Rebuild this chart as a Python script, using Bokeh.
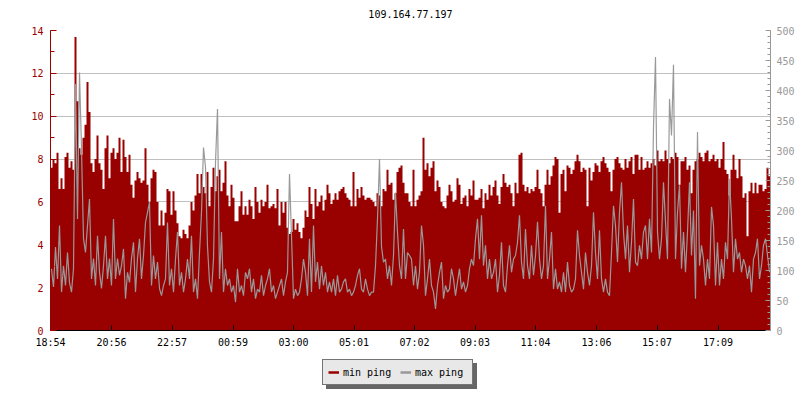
import numpy as np
from bokeh.plotting import figure
from bokeh.layouts import column
from bokeh.models import (Range1d, LinearAxis, SingleIntervalTicker, FixedTicker,
                          Legend, LegendItem, Label)
from bokeh.embed import file_html
from bokeh.resources import INLINE

TITLE = "109.164.77.197"
TIME_LABELS = ["18:54", "20:56", "22:57", "00:59", "03:00", "05:01",
               "07:02", "09:03", "11:04", "13:06", "15:07", "17:09"]
SAMPLE_MINUTES = 4
SERIES_NAMES = ["min ping", "max ping"]

# min ping (left axis), one value per 4-minute sample
MIN_PING = [
    7.6, 8.0, 7.8, 8.3, 6.6, 7.1, 6.6, 8.1, 8.3, 7.6,
    7.9, 7.5, 13.7, 10.7, 8.5, 8.2, 9.0, 9.6, 11.6, 10.2,
    7.8, 7.4, 8.0, 9.1, 7.8, 7.5, 6.6, 8.5, 9.1, 7.1,
    8.3, 8.5, 8.0, 8.3, 9.0, 7.4, 8.9, 8.1, 7.4, 8.2,
    6.8, 6.2, 7.0, 7.4, 7.1, 6.9, 7.0, 8.5, 6.8, 6.0,
    7.1, 7.5, 7.4, 6.0, 4.9, 5.6, 4.9, 5.5, 6.6, 6.5,
    5.4, 6.5, 5.6, 5.0, 4.4, 4.3, 4.7, 4.5, 4.3, 4.9,
    6.0, 5.6, 6.3, 7.3, 6.4, 7.3, 6.7, 6.4, 7.4, 5.8,
    6.7, 7.6, 6.5, 7.2, 7.5, 6.5, 6.9, 7.9, 6.3, 5.8,
    6.8, 6.2, 5.1, 5.1, 5.8, 6.5, 5.4, 5.8, 5.4, 6.1,
    5.8, 5.2, 6.7, 6.0, 5.5, 6.1, 5.8, 6.0, 6.8, 5.7,
    5.8, 5.9, 5.7, 6.6, 4.9, 6.0, 5.5, 6.0, 4.8, 4.5,
    4.6, 5.2, 4.7, 5.0, 4.6, 4.3, 4.8, 5.6, 5.3, 6.7,
    5.9, 5.2, 6.6, 5.8, 6.0, 6.3, 5.6, 6.1, 6.8, 6.4,
    5.9, 6.1, 6.4, 6.1, 6.5, 6.6, 6.7, 6.4, 6.2, 6.1,
    5.8, 7.4, 5.8, 6.6, 6.2, 6.7, 6.3, 6.1, 6.2, 6.2,
    6.1, 6.0, 5.8, 6.4, 6.3, 5.8, 6.6, 6.5, 7.5, 6.8,
    6.9, 6.1, 6.4, 7.4, 7.6, 7.7, 6.9, 6.4, 6.4, 6.0,
    5.8, 7.5, 5.8, 6.1, 6.3, 6.5, 9.0, 7.5, 7.8, 7.2,
    7.6, 7.9, 6.5, 7.0, 6.7, 6.0, 5.8, 5.7, 6.3, 6.8,
    6.5, 6.0, 6.1, 7.1, 6.8, 5.9, 6.2, 6.3, 5.8, 6.6,
    6.3, 7.0, 6.1, 6.1, 6.2, 6.6, 5.7, 6.4, 6.1, 6.8,
    6.3, 6.7, 7.0, 6.3, 5.9, 6.7, 7.3, 6.9, 6.7, 6.8,
    6.4, 5.8, 6.9, 6.4, 8.2, 8.3, 6.8, 6.5, 6.7, 6.4,
    6.6, 6.5, 6.7, 7.5, 6.6, 6.4, 5.8, 6.8, 7.5, 6.8,
    7.2, 7.7, 8.1, 8.0, 5.5, 7.3, 7.5, 6.5, 7.7, 7.6,
    7.3, 7.5, 7.9, 8.2, 7.9, 7.4, 7.6, 7.5, 5.8, 7.6,
    7.0, 7.4, 7.8, 7.7, 7.4, 7.9, 8.1, 7.8, 7.6, 7.4,
    6.5, 7.5, 8.0, 8.1, 7.8, 7.6, 7.5, 8.0, 7.6, 7.9,
    8.1, 7.3, 8.2, 8.2, 7.5, 8.1, 7.5, 7.6, 7.9, 7.6,
    7.8, 8.0, 7.7, 8.4, 7.9, 8.0, 7.9, 8.4, 8.0, 7.8,
    8.1, 8.0, 8.3, 8.1, 6.8, 7.9, 7.9, 8.1, 7.5, 7.7,
    6.4, 7.5, 7.9, 8.0, 8.3, 8.1, 7.9, 8.3, 8.4, 7.9,
    8.0, 8.2, 7.9, 8.0, 7.6, 8.0, 8.8, 7.5, 7.3, 6.3,
    7.5, 8.2, 7.5, 7.1, 8.0, 7.2, 6.2, 6.4, 4.4, 6.5,
    6.9, 6.4, 6.9, 6.4, 6.8, 6.8, 6.5, 6.6, 7.6, 7.2,
]

# max ping (right axis), one value per 4-minute sample
MAX_PING = [
    103, 72, 139, 86, 175, 64, 108, 75, 130, 80,
    64, 103, 411, 186, 430, 303, 153, 130, 175, 219,
    86, 120, 75, 158, 97, 70, 108, 158, 86, 120,
    75, 186, 86, 120, 92, 108, 136, 53, 97, 80,
    120, 147, 64, 120, 153, 86, 125, 180, 197, 214,
    75, 125, 86, 114, 70, 58, 75, 86, 180, 75,
    103, 64, 119, 164, 75, 97, 64, 86, 119, 86,
    158, 64, 86, 53, 130, 197, 305, 272, 140, 81,
    64, 119, 280, 369, 86, 164, 64, 103, 75, 86,
    64, 75, 47, 103, 64, 75, 58, 97, 86, 103,
    64, 86, 53, 69, 64, 92, 58, 75, 86, 103,
    64, 75, 53, 64, 75, 86, 58, 81, 97, 261,
    158, 53, 69, 58, 64, 86, 119, 97, 58, 153,
    64, 175, 81, 114, 69, 108, 75, 97, 64, 81,
    64, 86, 58, 92, 64, 69, 81, 86, 64, 69,
    58, 64, 75, 92, 103, 69, 64, 86, 69, 58,
    64, 64, 108, 186, 286, 140, 114, 119, 86, 108,
    75, 125, 230, 164, 108, 86, 169, 86, 130, 125,
    119, 75, 108, 69, 97, 175, 142, 58, 86, 119,
    75, 64, 36, 75, 97, 114, 53, 75, 64, 69,
    103, 86, 58, 81, 103, 69, 81, 64, 75, 103,
    119, 108, 153, 186, 119, 192, 108, 142, 86, 119,
    86, 97, 119, 64, 92, 147, 75, 64, 108, 142,
    97, 119, 125, 147, 192, 114, 86, 169, 108, 86,
    142, 92, 125, 181, 119, 86, 108, 208, 86, 119,
    164, 69, 103, 69, 81, 64, 97, 64, 114, 75,
    64, 69, 86, 167, 125, 97, 69, 130, 97, 75,
    108, 197, 130, 86, 167, 86, 64, 86, 64, 58,
    130, 208, 175, 114, 197, 247, 164, 119, 175, 97,
    147, 219, 114, 108, 142, 119, 164, 175, 119, 186,
    130, 339, 456, 164, 119, 153, 247, 181, 119, 386,
    325, 443, 119, 197, 242, 103, 164, 97, 164, 247,
    125, 200, 53, 331, 108, 142, 119, 75, 119, 86,
    206, 175, 75, 147, 75, 119, 86, 147, 119, 253,
    186, 97, 153, 119, 130, 97, 119, 108, 86, 108,
    64, 119, 130, 153, 86, 108, 142, 153, 125, 97,
]

RED = "#990000"
GRAY = "#999999"
FONT = "DejaVu Sans Mono"
FS = "10px"

min_ping = np.array(MIN_PING, dtype=float)
max_ping = np.array(MAX_PING, dtype=float)
n = len(min_ping)
t0 = np.arange(n) * SAMPLE_MINUTES
span = n * SAMPLE_MINUTES


def to_minutes(s):
    h, m = s.split(":")
    return int(h) * 60 + int(m)


base = to_minutes(TIME_LABELS[0])
tick_pos = [(to_minutes(s) - base) % 1440 for s in TIME_LABELS]


def strip(height):
    f = figure(width=800, height=height, x_range=Range1d(0, span), y_range=Range1d(-2, -1),
               output_backend="svg", toolbar_location=None,
               x_axis_type=None, y_axis_type=None,
               min_border_left=0, min_border_right=0, min_border_top=0, min_border_bottom=0,
               background_fill_color="white", border_fill_color="white")
    f.outline_line_color = None
    f.xgrid.visible = False
    f.ygrid.visible = False
    return f


# title strip
h = strip(20)
h.add_layout(Label(x=360, y=7, x_units="screen", y_units="screen", text=TITLE,
                   text_align="center", text_baseline="middle",
                   text_font=FONT, text_font_size=FS, text_color="black"))

# main chart
p = figure(width=800, height=330, x_range=Range1d(0, span), y_range=Range1d(0, 14),
           output_backend="svg", toolbar_location=None,
           min_border_left=50, min_border_right=30, min_border_top=10, min_border_bottom=20,
           background_fill_color="white", border_fill_color="white")
p.outline_line_color = None
p.extra_y_ranges = {"ms": Range1d(0, 500)}

# red step area (min ping)
xs = np.column_stack([t0, t0 + SAMPLE_MINUTES]).ravel()
ys = np.repeat(min_ping, 2)
p.varea(x=xs, y1=np.zeros_like(ys), y2=ys, fill_color=RED, fill_alpha=1)

# gray line (max ping)
p.line(x=t0 + SAMPLE_MINUTES / 2, y=max_ping, line_color=GRAY,
       line_width=1.2, y_range_name="ms")

# left axis
yl = p.yaxis[0]
yl.ticker = SingleIntervalTicker(interval=2, num_minor_ticks=2)
for attr in ("axis_line_color", "major_tick_line_color", "minor_tick_line_color",
             "major_label_text_color"):
    setattr(yl, attr, RED)
yl.major_tick_in = 6
yl.major_tick_out = 0
yl.minor_tick_in = 4
yl.minor_tick_out = 0
yl.major_label_standoff = 7
yl.major_label_text_font = FONT
yl.major_label_text_font_size = FS

p.ygrid[0].ticker = yl.ticker
p.ygrid[0].grid_line_color = "#c0c0c0"
p.ygrid[0].grid_line_width = 1
p.xgrid.visible = False

# right axis
yr = LinearAxis(y_range_name="ms", ticker=SingleIntervalTicker(interval=50, num_minor_ticks=5))
for attr in ("axis_line_color", "major_tick_line_color", "minor_tick_line_color",
             "major_label_text_color"):
    setattr(yr, attr, GRAY)
yr.major_tick_in = 5
yr.major_tick_out = 0
yr.minor_tick_in = 3
yr.minor_tick_out = 0
yr.major_label_standoff = 6
yr.major_label_text_font = FONT
yr.major_label_text_font_size = FS
p.add_layout(yr, "right")

# bottom axis
xa = p.xaxis[0]
xa.ticker = FixedTicker(ticks=tick_pos, minor_ticks=[])
xa.major_label_overrides = {pos: lab for pos, lab in zip(tick_pos, TIME_LABELS)}
xa.axis_line_color = "black"
xa.major_tick_line_color = "black"
xa.major_tick_in = 5
xa.major_tick_out = 0
xa.minor_tick_line_color = None
xa.major_label_standoff = 6
xa.major_label_text_font = FONT
xa.major_label_text_font_size = FS
xa.major_label_text_color = "black"

# legend strip below the chart (its y-range lies below all data, so the
# series drawn here only serve as legend keys and stay out of view)
q = strip(50)
r_min = q.line(x=t0, y=min_ping, line_color=RED, line_width=2.5)
r_max = q.line(x=t0, y=max_ping, line_color=GRAY, line_width=2.5)


def make_legend(loc, bg, fg, labels):
    return Legend(
        items=[LegendItem(label=labels[0], renderers=[r_min]),
               LegendItem(label=labels[1], renderers=[r_max])],
        location=loc, orientation="horizontal",
        background_fill_color=bg, background_fill_alpha=1,
        border_line_color=fg, border_line_width=1,
        label_text_font=FONT, label_text_font_size=FS, label_text_color=fg,
        glyph_width=11, glyph_height=14, label_height=14, label_width=52,
        label_standoff=4, spacing=5, padding=5, margin=0,
    )


# drop shadow (same size, blank labels), then the legend itself
q.add_layout(make_legend((276, 11), "#666666", "#666666", [" ", " "]), "center")
q.add_layout(make_legend((272, 15), "#e8e8e8", "black", SERIES_NAMES), "center")

layout = column(h, p, q, spacing=0)
open("out.html", "w").write(file_html(layout, INLINE))
